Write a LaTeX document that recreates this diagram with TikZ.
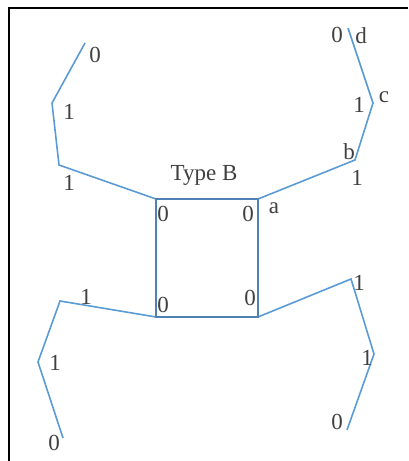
\documentclass[tikz,border=0pt]{standalone}
\usepackage{fontspec}
\setmainfont{Liberation Serif}
\usepackage{tikz}
\usetikzlibrary{positioning,calc}
\definecolor{chainBlue}{HTML}{5B9BD5}
\definecolor{boxBlue}{HTML}{4F81B4}

\begin{document}
\begin{tikzpicture}[x=1pt, y=-1pt,
    chain/.style={draw=chainBlue, line width=1.6pt, line join=miter},
    box/.style={draw=boxBlue, line width=2.4pt},
    lbl/.style={inner sep=0pt, font=\fontsize{23}{26}\selectfont, text=black!75}]
    \useasboundingbox (0,0) rectangle (408,461);
    \draw[line width=2pt] (9,461) -- (9,8) -- (408,8);
    % square corners
    \coordinate (sqTL) at (156,199);
    \coordinate (sqTR) at (258,199);
    \coordinate (sqBL) at (156,317);
    \coordinate (sqBR) at (258,317);
    % chain points
    \coordinate (ul1) at (59,165);  \coordinate (ul2) at (52,103);  \coordinate (ul3) at (85,43);
    \coordinate (ur1) at (355,160); \coordinate (ur2) at (373,103); \coordinate (ur3) at (348,28);
    \coordinate (ll1) at (60,301);  \coordinate (ll2) at (38,362);  \coordinate (ll3) at (63,438);
    \coordinate (lr1) at (351,279); \coordinate (lr2) at (374,354); \coordinate (lr3) at (347,430);
    \draw[chain] (sqTL) -- (ul1) -- (ul2) -- (ul3);
    \draw[chain] (sqTR) -- (ur1) -- (ur2) -- (ur3);
    \draw[chain] (sqBL) -- (ll1) -- (ll2) -- (ll3);
    \draw[chain] (sqBR) -- (lr1) -- (lr2) -- (lr3);
    \draw[box] (sqTL) rectangle (sqBR);
    \node[lbl] (title) at (204,175) {Type B};
    \foreach \t/\x/\y [count=\i] in {0/95/55, 1/69/112, 1/69/183,
        0/337/35, d/361/36, c/384/97, 1/359/105, b/349/152, 1/357/178, a/274/208,
        0/163/214, 0/248/214, 0/163/305, 0/250/298,
        1/86/297, 1/55/363, 0/54/443,
        1/359/283, 1/367/358, 0/337/422} {
        \node[lbl] (n\i) at (\x,\y) {\t};
    }
\end{tikzpicture}
\end{document}
